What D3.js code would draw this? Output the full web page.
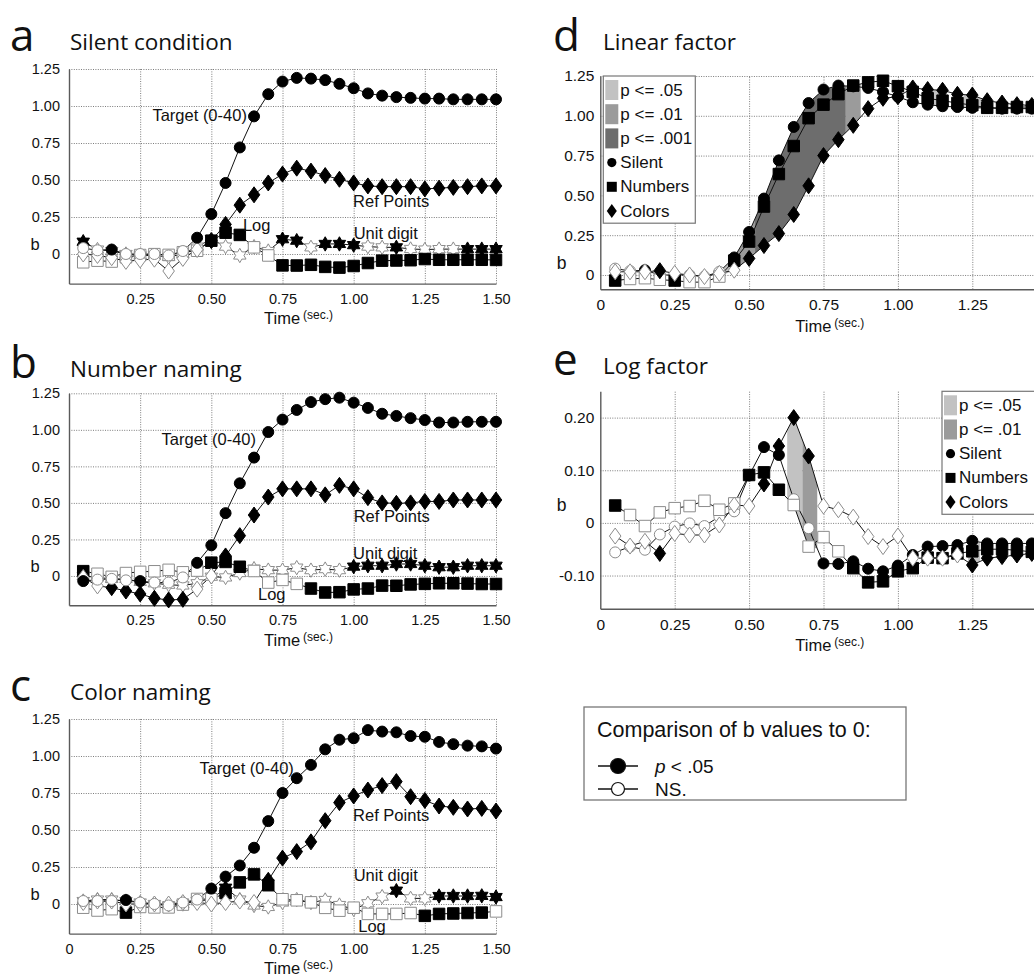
<!DOCTYPE html>
<html>
<head>
<meta charset="utf-8">
<script src="https://cdn.jsdelivr.net/npm/d3@7"></script>
<style>
  body { margin: 0; background: #fff; }
  svg { display: block; }
</style>
</head>
<body>
<script>
// ---------------- data ----------------
const times = [0.05, 0.10, 0.15, 0.20, 0.25, 0.30, 0.35, 0.40, 0.45, 0.50,
               0.55, 0.60, 0.65, 0.70, 0.75, 0.80, 0.85, 0.90, 0.95, 1.00,
               1.05, 1.10, 1.15, 1.20, 1.25, 1.30, 1.35, 1.40, 1.45, 1.50];

// Target (0-40) regression weights, one per condition (also the "Linear factor")
const targetSilent = [0.04, 0.025, 0.03, 0.0, 0.0, 0.0, -0.01, 0.02, 0.11, 0.27,
  0.48, 0.72, 0.93, 1.08, 1.165, 1.19, 1.185, 1.175, 1.15, 1.12,
  1.085, 1.07, 1.06, 1.055, 1.05, 1.05, 1.045, 1.045, 1.045, 1.045];
const targetSilentSig = [0,0,1,0,0,0,0,0,1,1, 1,1,1,1,1,1,1,1,1,1, 1,1,1,1,1,1,1,1,1,1];

const targetNumbers = [-0.035, -0.025, -0.02, -0.03, -0.035, -0.045, -0.045, -0.01, 0.09, 0.21,
  0.43, 0.634, 0.81, 0.985, 1.07, 1.136, 1.19, 1.21, 1.22, 1.186,
  1.15, 1.11, 1.095, 1.08, 1.067, 1.05, 1.05, 1.055, 1.055, 1.055];
const targetNumbersSig = [1,0,0,0,1,0,0,0,1,1, 1,1,1,1,1,1,1,1,1,1, 1,1,1,1,1,1,1,1,1,1];

const targetColors = [0.02, 0.02, 0.02, 0.027, 0.01, 0.0, -0.01, 0.01, 0.03, 0.104,
  0.185, 0.26, 0.38, 0.56, 0.75, 0.85, 0.94, 1.045, 1.11, 1.12,
  1.175, 1.165, 1.16, 1.135, 1.13, 1.095, 1.08, 1.07, 1.065, 1.05];
const targetColorsSig = [0,0,0,1,0,0,0,0,0,1, 1,1,1,1,1,1,1,1,1,1, 1,1,1,1,1,1,1,1,1,1];

// Log regression weights, one per condition (also the "Log factor")
const logSilent = [-0.056, -0.045, -0.051, -0.022, -0.007, -0.001, -0.006, 0.012, 0.022, 0.09,
  0.144, 0.129, 0.045, -0.01, -0.077, -0.078, -0.073, -0.087, -0.092, -0.081,
  -0.061, -0.045, -0.044, -0.042, -0.034, -0.039, -0.039, -0.039, -0.039, -0.04];
const logSilentSig = [0,0,0,0,0,0,0,0,0,1, 1,1,0,0,1,1,1,1,1,1, 1,1,1,1,1,1,1,1,1,1];

const logNumbers = [0.033, 0.015, -0.006, 0.02, 0.028, 0.032, 0.042, 0.025, 0.037, 0.091,
  0.096, 0.063, 0.034, -0.045, -0.027, -0.054, -0.086, -0.113, -0.111, -0.092,
  -0.086, -0.066, -0.067, -0.058, -0.054, -0.05, -0.05, -0.052, -0.055, -0.055];
const logNumbersSig = [1,0,0,0,0,0,0,0,0,1, 1,1,0,0,0,0,1,1,1,1, 1,1,1,1,1,1,1,1,1,1];

const logColors = [-0.025, -0.044, -0.035, -0.058, -0.02, -0.023, -0.023, -0.004, 0.034, 0.032,
  0.074, 0.146, 0.2, 0.127, 0.032, 0.025, 0.011, -0.026, -0.045, -0.025,
  -0.067, -0.067, -0.067, -0.061, -0.08, -0.067, -0.064, -0.061, -0.058, -0.05];
const logColorsSig = [0,0,0,1,0,0,0,0,0,0, 1,1,1,1,0,0,0,0,0,0, 0,0,0,0,1,1,1,1,1,0];

// Reference points
const refSilent = [0.0, -0.01, -0.025, -0.05, -0.04, -0.035, -0.115, -0.03, 0.03, 0.09,
  0.2, 0.33, 0.4, 0.48, 0.54, 0.58, 0.56, 0.53, 0.505, 0.48,
  0.46, 0.455, 0.455, 0.455, 0.44, 0.445, 0.45, 0.455, 0.46, 0.46];
const refSilentSig = [0,0,0,0,0,0,0,0,0,1, 1,1,1,1,1,1,1,1,1,1, 1,1,1,1,1,1,1,1,1,1];

const refNumbers = [-0.01, -0.068, -0.08, -0.103, -0.123, -0.153, -0.164, -0.16, -0.09, 0.0,
  0.137, 0.276, 0.417, 0.54, 0.596, 0.596, 0.596, 0.555, 0.62, 0.596,
  0.536, 0.5, 0.497, 0.5, 0.51, 0.51, 0.52, 0.52, 0.52, 0.52];
const refNumbersSig = [0,0,1,1,1,1,1,1,0,0, 1,1,1,1,1,1,1,1,1,1, 1,1,1,1,1,1,1,1,1,1];

const refColors = [0.01, 0.02, 0.02, 0.0, 0.0, 0.0, 0.0, 0.01, 0.01, 0.0,
  0.01, 0.02, 0.01, 0.16, 0.31, 0.354, 0.42, 0.563, 0.685, 0.73,
  0.77, 0.8, 0.827, 0.725, 0.7, 0.662, 0.653, 0.642, 0.646, 0.628];
const refColorsSig = [0,0,0,0,0,0,0,0,0,0, 0,0,0,1,1,1,1,1,1,1, 1,1,1,1,1,1,1,1,1,1];

// Unit digit
const unitSilent = [0.083, 0.03, 0.02, 0.0, -0.01, -0.01, -0.02, 0.0, 0.05, 0.1,
  0.05, -0.01, 0.05, 0.02, 0.1, 0.09, 0.045, 0.068, 0.068, 0.06,
  0.05, 0.045, 0.045, 0.034, 0.03, 0.033, 0.033, 0.033, 0.033, 0.033];
const unitSilentSig = [1,0,0,0,0,0,0,0,0,0, 0,0,0,0,1,1,0,1,1,1, 0,0,1,0,0,0,0,1,1,1];

const unitNumbers = [0.0, -0.01, -0.02, -0.02, -0.04, -0.05, -0.06, -0.065, -0.05, -0.005,
  -0.01, 0.02, 0.05, 0.04, 0.04, 0.057, 0.04, 0.047, 0.04, 0.064,
  0.07, 0.07, 0.082, 0.082, 0.07, 0.06, 0.06, 0.07, 0.07, 0.07];
const unitNumbersSig = [0,0,0,0,0,0,0,0,0,0, 0,0,0,0,0,0,0,0,0,1, 1,1,1,1,1,1,1,1,1,1];

const unitColors = [0.02, 0.03, 0.03, 0.02, 0.01, 0.0, -0.01, 0.0, 0.02, 0.03,
  0.11, 0.03, -0.01, -0.02, 0.01, 0.03, 0.01, 0.027, -0.007, -0.036,
  0.005, 0.05, 0.09, 0.038, 0.038, 0.054, 0.054, 0.054, 0.055, 0.047];
const unitColorsSig = [0,0,0,0,0,0,0,0,0,0, 1,0,0,0,0,0,0,0,0,0, 0,0,1,0,0,1,1,1,1,1];

// Between-condition comparison bands: [from, to, significance level]
const linearBands = [[0.40, 0.45, 1], [0.45, 0.52, 2], [0.52, 0.825, 3], [0.825, 0.875, 2],
                     [1.09, 1.15, 1], [1.22, 1.28, 1]];
const logBands = [[0.628, 0.679, 1], [0.679, 0.729, 2], [1.236, 1.276, 1]];

const leftYTicks = [0, 0.25, 0.5, 0.75, 1.0, 1.25];
const linearYTicks = [0, 0.25, 0.5, 0.75, 1.0, 1.25];
const logYTicks = [-0.1, 0, 0.1, 0.2];
const xTickValues = [0, 0.25, 0.5, 0.75, 1.0, 1.25, 1.5];
const bandLabels = ["p <= .05", "p <= .01", "p <= .001"];
const conditionNames = ["Silent", "Numbers", "Colors"];

// ---------------- drawing ----------------
const W = 1034, H = 976;
const SANS = "'Liberation Sans', Arial, Helvetica, sans-serif";
const TITLE = "'Open Sans', 'Noto Sans', sans-serif";
const shade = { 1: "#c2c2c2", 2: "#9b9b9b", 3: "#6d6d6d" };

const svg = d3.select("body").append("svg").attr("width", W).attr("height", H);

const shapes = {
  circle: { draw(c, r) { c.moveTo(r, 0); c.arc(0, 0, r, 0, 2 * Math.PI); } },
  square: { draw(c, s) { c.rect(-s / 2, -s / 2, s, s); } },
  diamond: { draw(c, h) { const w = h * 0.72; c.moveTo(0, -h); c.lineTo(w, 0); c.lineTo(0, h); c.lineTo(-w, 0); c.closePath(); } },
  star: { draw(c, r) {
    const ri = r / Math.sqrt(3);
    for (let k = 0; k < 12; k++) {
      const a = -Math.PI / 2 + k * Math.PI / 6, rr = k % 2 === 0 ? r : ri;
      const px = rr * Math.cos(a), py = rr * Math.sin(a);
      if (k === 0) c.moveTo(px, py); else c.lineTo(px, py);
    }
    c.closePath();
  } }
};
const shapeSize = { circle: 5.5, square: 11.5, diamond: 8, star: 7.2 };
const legendSize = { circle: 4.6, square: 10, diamond: 7, star: 6 };

function fmtTick(d) {
  if (Math.abs(d) < 1e-9) return "0";
  return d3.format(".2f")(d).replace("\u2212", "-");
}

function valueAt(vals, t) {
  const i = Math.min(Math.max(d3.bisectRight(times, t + 1e-9) - 1, 0), times.length - 2);
  const f = (t - times[i]) / (times[i + 1] - times[i]);
  return vals[i] + f * (vals[i + 1] - vals[i]);
}
function envelope(list, t0, t1) {
  const ts = [t0, ...times.filter(t => t > t0 + 1e-6 && t < t1 - 1e-6), t1];
  return ts.map(t => {
    const v = list.map(vals => valueAt(vals, t));
    return { t, hi: d3.max(v), lo: d3.min(v) };
  });
}

function drawPanel(p) {
  const g = svg.append("g");
  const x = d3.scaleLinear().domain([0, 1.5]).range([p.left, p.right]);
  const y = d3.scaleLinear().domain(p.yDomain).range([p.bottom, p.top]);
  const h = p.bottom - p.top, w = p.right - p.left;

  // dotted grid
  const gx = g.append("g").attr("transform", `translate(0,${p.bottom})`)
    .call(d3.axisBottom(x).tickValues(xTickValues.filter(t => t > 0)).tickSize(-h).tickFormat(""));
  const gy = g.append("g").attr("transform", `translate(${p.left},0)`)
    .call(d3.axisLeft(y).tickValues(p.yTicks).tickSize(-w).tickFormat(""));
  [gx, gy].forEach(a => {
    a.select(".domain").remove();
    a.selectAll("line").attr("stroke", "#7c7c7c").attr("stroke-width", 1).attr("stroke-dasharray", "1,1.4");
  });

  // significance bands between conditions
  if (p.bands) {
    const area = d3.area().x(d => x(d.t)).y0(d => y(d.lo)).y1(d => y(d.hi));
    const lists = p.series.map(s => s.values);
    p.bands.forEach(([t0, t1, lvl]) => {
      g.append("path").attr("d", area(envelope(lists, t0, t1))).attr("fill", shade[lvl]);
    });
  }

  // axes
  const ay = g.append("g").attr("transform", `translate(${p.left},0)`)
    .call(d3.axisLeft(y).tickValues(p.yTicks).tickFormat(fmtTick).tickSize(0).tickPadding(p.padY));
  const axb = g.append("g").attr("transform", `translate(0,${p.bottom})`)
    .call(d3.axisBottom(x).tickValues(xTickValues.filter(t => (p.showZero || t > 0) && t <= p.xLabelMax))
      .tickFormat(fmtTick).tickSize(0).tickPadding(p.padX));
  [ay, axb].forEach(a => {
    a.select(".domain").attr("stroke", "#5a5a5a").attr("stroke-width", 1.4);
    a.selectAll("text").attr("font-family", SANS).attr("font-size", p.tickFont).attr("fill", "#111");
  });

  // "b" axis label
  g.append("text").attr("x", p.left - p.bDx).attr("y", y(0) + p.bDy)
    .attr("font-family", SANS).attr("font-size", p.tickFont + 2).attr("fill", "#111")
    .attr("text-anchor", "middle").attr("dominant-baseline", "central").text("b");

  // Time (sec.)
  const tl = g.append("text").attr("x", p.left + 195).attr("y", p.bottom + p.timeDy)
    .attr("font-family", SANS).attr("font-size", 16.5).attr("fill", "#111")
    .attr("dominant-baseline", "central");
  tl.append("tspan").text("Time");
  tl.append("tspan").attr("font-size", 12).attr("dx", 3).attr("dy", -3).text("(sec.)");

  // series
  const line = d3.line().x((d, i) => x(times[i])).y(d => y(d));
  p.series.forEach(s => {
    g.append("path").attr("d", line(s.values)).attr("fill", "none")
      .attr("stroke", "#111").attr("stroke-width", 1);
  });
  p.series.forEach(s => {
    const sym = d3.symbol(shapes[s.shape], shapeSize[s.shape]);
    g.append("g").selectAll("path").data(s.values).join("path")
      .attr("transform", (d, i) => `translate(${x(times[i])},${y(d)})`)
      .attr("d", sym)
      .attr("fill", (d, i) => s.sig[i] ? "#000" : "#fff")
      .attr("stroke", (d, i) => s.sig[i] ? "#000" : "#8c8c8c")
      .attr("stroke-width", 1);
  });

  // series annotations
  (p.notes || []).forEach(n => {
    g.append("text").attr("x", x(n.t)).attr("y", y(n.v))
      .attr("font-family", SANS).attr("font-size", 16.5).attr("fill", "#111")
      .attr("text-anchor", n.anchor).attr("dominant-baseline", "central").text(n.text);
  });

  // legend for the comparison panels
  if (p.legend) {
    const L = p.legend;
    const rows = L.levels.map(l => ({ kind: "band", lvl: l, text: bandLabels[l - 1] }))
      .concat(p.series.map((s, i) => ({ kind: "mark", shape: s.shape, text: conditionNames[i] })));
    const lg = g.append("g");
    lg.append("rect").attr("x", L.x).attr("y", L.y).attr("width", L.w)
      .attr("height", rows.length * 24.2 + 2).attr("fill", "#fff").attr("stroke", "#777").attr("stroke-width", 1.2);
    rows.forEach((r, i) => {
      const cy = L.y + 14 + i * 24.2;
      if (r.kind === "band") {
        lg.append("rect").attr("x", L.x + 2).attr("y", cy - 10).attr("width", 13).attr("height", 20).attr("fill", shade[r.lvl]);
      } else {
        lg.append("path").attr("transform", `translate(${L.x + 8.5},${cy})`)
          .attr("d", d3.symbol(shapes[r.shape], legendSize[r.shape])).attr("fill", "#000");
      }
      lg.append("text").attr("x", L.x + 17).attr("y", cy).attr("font-family", SANS).attr("font-size", 17)
        .attr("fill", "#111").attr("dominant-baseline", "central").text(r.text);
    });
  }

  // panel letter and title
  svg.append("text").attr("x", p.letterX).attr("y", p.titleY).attr("font-family", TITLE)
    .attr("font-size", 44).attr("fill", "#111").text(p.key);
  svg.append("text").attr("x", p.letterX + p.titleDx).attr("y", p.titleY - 1).attr("font-family", TITLE)
    .attr("font-size", 22.5).attr("fill", "#111").text(p.title);
}

const leftPanel = { left: 69, right: 496, yDomain: [-0.2, 1.25], yTicks: leftYTicks, showZero: false,
  xLabelMax: 1.5, padY: 9, padX: 10, tickFont: 14.5, bDx: 34, bDy: -10, timeDy: 34.4,
  letterX: 10, titleDx: 60 };

const panels = [
  Object.assign({}, leftPanel, {
    key: "a", title: "Silent condition", top: 69, bottom: 283.6, titleY: 51,
    series: [
      { values: unitSilent, sig: unitSilentSig, shape: "star" },
      { values: logSilent, sig: logSilentSig, shape: "square" },
      { values: refSilent, sig: refSilentSig, shape: "diamond" },
      { values: targetSilent, sig: targetSilentSig, shape: "circle" }
    ],
    notes: [
      { text: "Target (0-40)", t: 0.625, v: 0.94, anchor: "end" },
      { text: "Ref Points", t: 0.998, v: 0.36, anchor: "start" },
      { text: "Log", t: 0.611, v: 0.196, anchor: "start" },
      { text: "Unit digit", t: 1.0, v: 0.14, anchor: "start" }
    ]
  }),
  Object.assign({}, leftPanel, {
    key: "b", title: "Number naming", top: 393.3, bottom: 605.2, titleY: 378,
    series: [
      { values: unitNumbers, sig: unitNumbersSig, shape: "star" },
      { values: logNumbers, sig: logNumbersSig, shape: "square" },
      { values: refNumbers, sig: refNumbersSig, shape: "diamond" },
      { values: targetNumbers, sig: targetNumbersSig, shape: "circle" }
    ],
    notes: [
      { text: "Target (0-40)", t: 0.657, v: 0.94, anchor: "end" },
      { text: "Ref Points", t: 1.0, v: 0.41, anchor: "start" },
      { text: "Unit digit", t: 0.998, v: 0.16, anchor: "start" },
      { text: "Log", t: 0.664, v: -0.123, anchor: "start" }
    ]
  }),
  Object.assign({}, leftPanel, {
    key: "c", title: "Color naming", top: 719, bottom: 933.6, titleY: 701, showZero: true,
    series: [
      { values: unitColors, sig: unitColorsSig, shape: "star" },
      { values: logColors, sig: logColorsSig, shape: "square" },
      { values: refColors, sig: refColorsSig, shape: "diamond" },
      { values: targetColors, sig: targetColorsSig, shape: "circle" }
    ],
    notes: [
      { text: "Target (0-40)", t: 0.79, v: 0.92, anchor: "end" },
      { text: "Ref Points", t: 0.998, v: 0.60, anchor: "start" },
      { text: "Unit digit", t: 1.0, v: 0.196, anchor: "start" },
      { text: "Log", t: 1.016, v: -0.149, anchor: "start" }
    ]
  }),
  {
    key: "d", title: "Linear factor", left: 600.3, right: 1046.7, top: 76, bottom: 289.3,
    yDomain: [-0.09, 1.25], yTicks: linearYTicks, showZero: true, xLabelMax: 1.25,
    padY: 6, padX: 10, tickFont: 15.5,
    bDx: 38.6, bDy: -12, timeDy: 36.4, letterX: 553, titleDx: 50, titleY: 51, bands: linearBands,
    legend: { x: 603.3, y: 76, w: 92, levels: [1, 2, 3] },
    series: [
      { values: targetSilent, sig: targetSilentSig, shape: "circle" },
      { values: targetNumbers, sig: targetNumbersSig, shape: "square" },
      { values: targetColors, sig: targetColorsSig, shape: "diamond" }
    ]
  },
  {
    key: "e", title: "Log factor", left: 600.3, right: 1046.7, top: 391.3, bottom: 608.7,
    yDomain: [-0.163, 0.25], yTicks: logYTicks, showZero: true, xLabelMax: 1.25,
    padY: 6, padX: 10, tickFont: 15.5,
    bDx: 38.6, bDy: -18, timeDy: 36.3, letterX: 553, titleDx: 50, titleY: 375, bands: logBands,
    legend: { x: 942, y: 391.3, w: 102, levels: [1, 2] },
    series: [
      { values: logSilent, sig: logSilentSig, shape: "circle" },
      { values: logNumbers, sig: logNumbersSig, shape: "square" },
      { values: logColors, sig: logColorsSig, shape: "diamond" }
    ]
  }
];

panels.forEach(drawPanel);

// key for filled / open markers
const key = svg.append("g");
key.append("rect").attr("x", 584).attr("y", 707).attr("width", 322).attr("height", 93)
  .attr("fill", "#fff").attr("stroke", "#777").attr("stroke-width", 1.3);
key.append("text").attr("x", 597).attr("y", 730).attr("font-family", SANS).attr("font-size", 21.5)
  .attr("fill", "#111").attr("dominant-baseline", "central").text("Comparison of b values to 0:");
const keyRows = [{ filled: true, y: 766 }, { filled: false, y: 789 }];
keyRows.forEach(r => {
  key.append("line").attr("x1", 598).attr("x2", 638).attr("y1", r.y).attr("y2", r.y)
    .attr("stroke", "#111").attr("stroke-width", 1.3);
  key.append("circle").attr("cx", 618).attr("cy", r.y).attr("r", r.filled ? 7.5 : 6.5)
    .attr("fill", r.filled ? "#000" : "#fff").attr("stroke", "#111").attr("stroke-width", 1.2);
});
const t1 = key.append("text").attr("x", 655).attr("y", keyRows[0].y).attr("font-family", SANS).attr("font-size", 19)
  .attr("fill", "#111").attr("dominant-baseline", "central");
t1.append("tspan").attr("font-style", "italic").text("p");
t1.append("tspan").text(" < .05");
key.append("text").attr("x", 655).attr("y", keyRows[1].y).attr("font-family", SANS).attr("font-size", 19)
  .attr("fill", "#111").attr("dominant-baseline", "central").text("NS.");
</script>
</body>
</html>
